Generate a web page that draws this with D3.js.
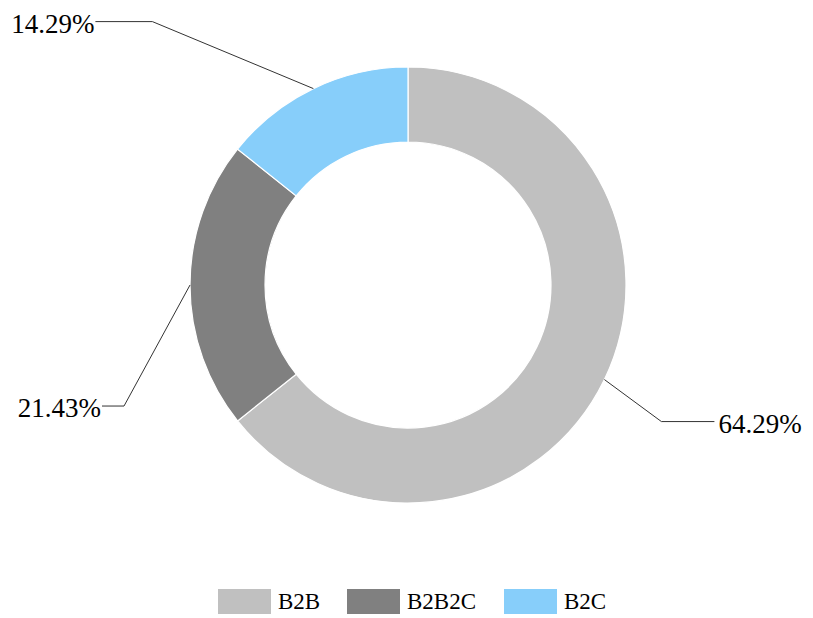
<!DOCTYPE html>
<html><head><meta charset="utf-8">
<script src="https://cdn.jsdelivr.net/npm/d3@7"></script>
<style>html,body{margin:0;padding:0;background:#fff;}text{font-family:"Times New Roman","Liberation Serif",Times,serif;}</style>
</head><body>
<svg id="chart" width="813" height="618"></svg>
<script>
const categories = ["B2B", "B2B2C", "B2C"];
const values = [64.29, 21.43, 14.29];
const colors = ["#c0c0c0", "#808080", "#87cefa"];
// label leader elbow offsets (layout) relative to the arc anchor point
const elbowOffsets = [[57, 42], [-66, 121], [-161, -67]];
const horizLen = [53, 22, 57];

const svg = d3.select("#chart");
const cx = 408, cy = 285, rOuter = 218, rInner = 143;
const FONT = '"Times New Roman","Liberation Serif",Times,serif';

const pie = d3.pie().sort(null).value(d => d)(values);
const arc = d3.arc().innerRadius(rInner).outerRadius(rOuter);
const g = svg.append("g").attr("transform", `translate(${cx},${cy})`);

g.selectAll("path.slice").data(pie).join("path")
  .attr("class", "slice")
  .attr("d", arc)
  .attr("fill", (d, i) => colors[i])
  .attr("stroke", "#fff").attr("stroke-width", 1.2);

const anchorArc = d3.arc().innerRadius(rOuter).outerRadius(rOuter);
pie.forEach((d, i) => {
  const p = anchorArc.centroid(d);
  const e = [p[0] + elbowOffsets[i][0], p[1] + elbowOffsets[i][1]];
  const right = e[0] > 0;
  const h = [e[0] + (right ? horizLen[i] : -horizLen[i]), e[1]];
  g.append("polyline")
    .attr("points", [p, e, h].map(q => q.join(",")).join(" "))
    .attr("fill", "none").attr("stroke", "#333").attr("stroke-width", 1);
  g.append("text")
    .attr("x", h[0] + (right ? 4 : -1))
    .attr("y", h[1] + 2)
    .attr("text-anchor", right ? "start" : "end")
    .attr("dominant-baseline", "central")
    .attr("font-family", FONT)
    .attr("font-size", 27)
    .attr("fill", "#000")
    .text(values[i].toFixed(2) + "%");
});

// legend
const legendStarts = [218, 347, 504];
const lg = svg.append("g");
categories.forEach((c, i) => {
  const x0 = legendStarts[i];
  lg.append("rect").attr("x", x0).attr("y", 589).attr("width", 53).attr("height", 25).attr("fill", colors[i]);
  lg.append("text").attr("x", x0 + 60).attr("y", 601.5)
    .attr("dominant-baseline", "central").attr("font-family", FONT)
    .attr("font-size", 23).attr("fill", "#000").text(c);
});
</script>
</body></html>
